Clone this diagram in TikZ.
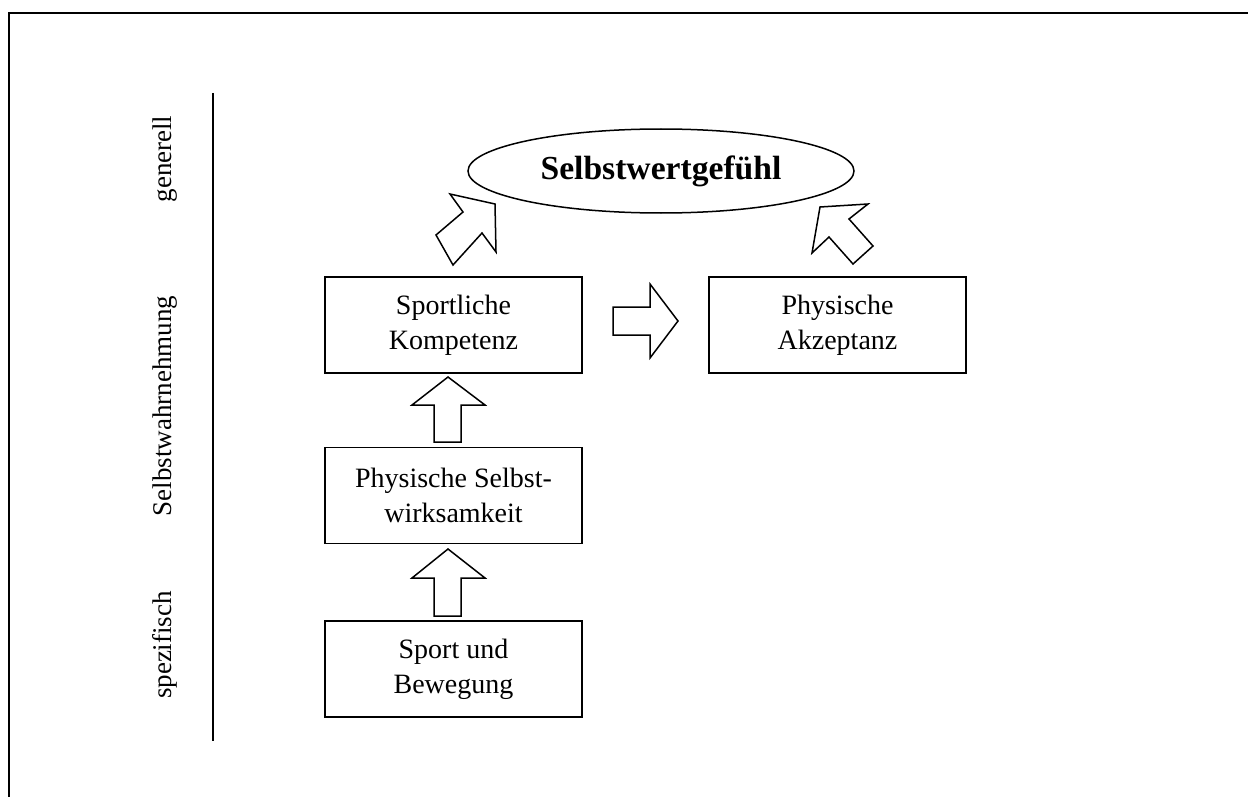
\documentclass[tikz,border=0pt]{standalone}
\usepackage{fontspec}
\setmainfont{Liberation Serif}
\usetikzlibrary{shapes.geometric}
\begin{document}
\begin{tikzpicture}[x=0.5pt,y=-0.5pt,
  box/.style={draw,line width=0.75pt,minimum width=128.5pt,minimum height=48pt,
    align=center,font=\fontsize{14}{17.5}\selectfont,inner sep=0pt},
  blockarrow/.style={draw,line width=0.75pt,line join=miter,fill=white},
  sidelabel/.style={rotate=90,font=\fontsize{13.5}{16}\selectfont,inner sep=0pt}]
\useasboundingbox (0,0) rectangle (1248,797);
% outer frame
\draw[line width=1pt] (9,797) -- (9,13) -- (1248,13);
% scale axis
\draw[line width=0.75pt] (213,93) -- (213,741);
\node[sidelabel] (gen) at (165,159) {generell};
\node[sidelabel] (swn) at (165,406) {Selbstwahrnehmung};
\node[sidelabel] (spz) at (165,645) {spezifisch};
% nodes
\node[draw,ellipse,line width=0.75pt,minimum width=193pt,minimum height=42pt,inner sep=0pt,
  font=\fontsize{16.8}{20}\selectfont\bfseries] (sw) at (661,171) {Selbstwertgefühl};
\node[box] (sk) at (453.5,325) {Sportliche\\Kompetenz};
\node[box] (pa) at (837.5,325) {Physische\\Akzeptanz};
\node[box] (ps) at (453.5,495.5) {Physische Selbst-\\wirksamkeit};
\node[box] (sb) at (453.5,669) {Sport und\\Bewegung};
% block arrows
\draw[blockarrow] (613,307) -- (650,307) -- (650,284) -- (678,321) -- (650,358) -- (650,335) -- (613,335) -- cycle;
\draw[blockarrow] (434,442) -- (434,405) -- (412,405) -- (448,377) -- (485,405) -- (461,405) -- (461,442) -- cycle;
\draw[blockarrow] (434,616) -- (434,578) -- (412,578) -- (448,549) -- (485,578) -- (461,578) -- (461,616) -- cycle;
\draw[blockarrow] (450,194) -- (495,204) -- (496,252) -- (482,233) -- (453,265) -- (436,235) -- (463,212) -- cycle;
\draw[blockarrow] (820,207) -- (868,204) -- (849,219) -- (873,246) -- (853,264) -- (829,237) -- (812,253) -- cycle;
\end{tikzpicture}
\end{document}
